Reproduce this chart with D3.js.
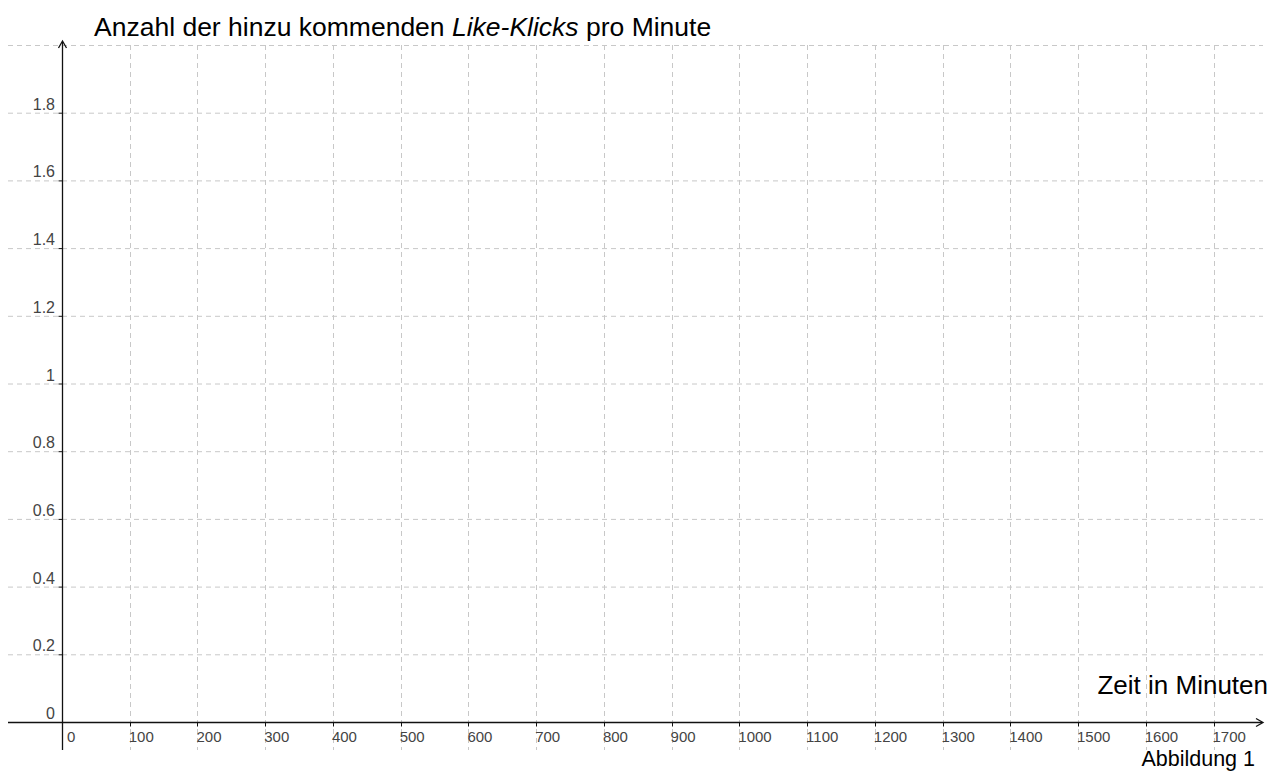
<!DOCTYPE html>
<html><head><meta charset="utf-8">
<script src="https://cdn.jsdelivr.net/npm/d3@7"></script>
<style>html,body{margin:0;padding:0;background:#fff;}svg{display:block;font-family:"Liberation Sans",Arial,sans-serif;}</style>
</head><body>
<svg id="c" width="1271" height="771"></svg>
<script>
const xTicks = [0,100,200,300,400,500,600,700,800,900,1000,1100,1200,1300,1400,1500,1600,1700];
const yTicks = [0,0.2,0.4,0.6,0.8,1,1.2,1.4,1.6,1.8];
const yGrid = [0.2,0.4,0.6,0.8,1,1.2,1.4,1.6,1.8,2];
const titleParts = ["Anzahl der hinzu kommenden ", "Like-Klicks", " pro Minute"];
const xLabel = "Zeit in Minuten";
const caption = "Abbildung 1";

(function(){
const svg = d3.select("#c");
const x = d3.scaleLinear().domain([0,1700]).range([62,1213.5]);
const y = d3.scaleLinear().domain([0,2]).range([722,45]);
const gLeft = 8, gRight = 1263, gTop = 45, gBottom = 750;
const gridC = "#c8c8c8";

// grid
svg.append("g").selectAll("line").data(yGrid).join("line")
  .attr("x1",gLeft).attr("x2",gRight).attr("y1",d=>y(d)+0.5).attr("y2",d=>y(d)+0.5)
  .attr("stroke",gridC).attr("stroke-width",1).attr("stroke-dasharray","5,4");
svg.append("g").selectAll("line").data(xTicks.filter(d=>d>0)).join("line")
  .attr("x1",d=>Math.round(x(d))+0.5).attr("x2",d=>Math.round(x(d))+0.5).attr("y1",gTop).attr("y2",gBottom)
  .attr("stroke",gridC).attr("stroke-width",1).attr("stroke-dasharray","5,4");

// axes
const ax = Math.round(x(0))+0.5, ay = y(0)+0.5;
svg.append("line").attr("x1",gLeft).attr("x2",gRight-1).attr("y1",ay).attr("y2",ay).attr("stroke","#111").attr("stroke-width",1.3);
svg.append("path").attr("d",`M${gRight-7},${ay-4}L${gRight},${ay}L${gRight-7},${ay+4}`).attr("fill","none").attr("stroke","#111").attr("stroke-width",1.3);
svg.append("line").attr("x1",ax).attr("x2",ax).attr("y1",gBottom).attr("y2",42).attr("stroke","#111").attr("stroke-width",1.3);
svg.append("path").attr("d",`M${ax-4},${48}L${ax},${41}L${ax+4},${48}`).attr("fill","none").attr("stroke","#111").attr("stroke-width",1.3);

// ticks
svg.append("g").selectAll("line").data(xTicks.filter(d=>d>0)).join("line")
  .attr("x1",d=>Math.round(x(d))+0.5).attr("x2",d=>Math.round(x(d))+0.5).attr("y1",ay).attr("y2",ay+4).attr("stroke","#111");
svg.append("g").selectAll("line").data(yTicks.filter(d=>d>0)).join("line")
  .attr("x1",ax-4).attr("x2",ax).attr("y1",d=>y(d)+0.5).attr("y2",d=>y(d)+0.5).attr("stroke","#111");

// tick labels
svg.append("g").selectAll("text").data(xTicks).join("text")
  .attr("x",d=>d===0 ? x(d)+5 : x(d)-1).attr("y",y(0)+20).attr("font-size",15).attr("fill","#444")
  .text(d=>d);
svg.append("g").selectAll("text").data(yTicks).join("text")
  .attr("x",x(0)-7).attr("y",d=>y(d)-3).attr("text-anchor","end").attr("font-size",16).attr("fill","#444")
  .text(d=>d);

// title
const t = svg.append("text").attr("x",94).attr("y",36).attr("font-size",26.5).attr("fill","#000");
t.append("tspan").text(titleParts[0]);
t.append("tspan").attr("font-style","italic").text(titleParts[1]);
t.append("tspan").text(titleParts[2]);

svg.append("text").attr("x",1268).attr("y",694).attr("text-anchor","end").attr("font-size",26).attr("fill","#000").text(xLabel);
svg.append("text").attr("x",1255).attr("y",766).attr("text-anchor","end").attr("font-size",21.5).attr("fill","#000").text(caption);
})();
</script>
</body></html>
